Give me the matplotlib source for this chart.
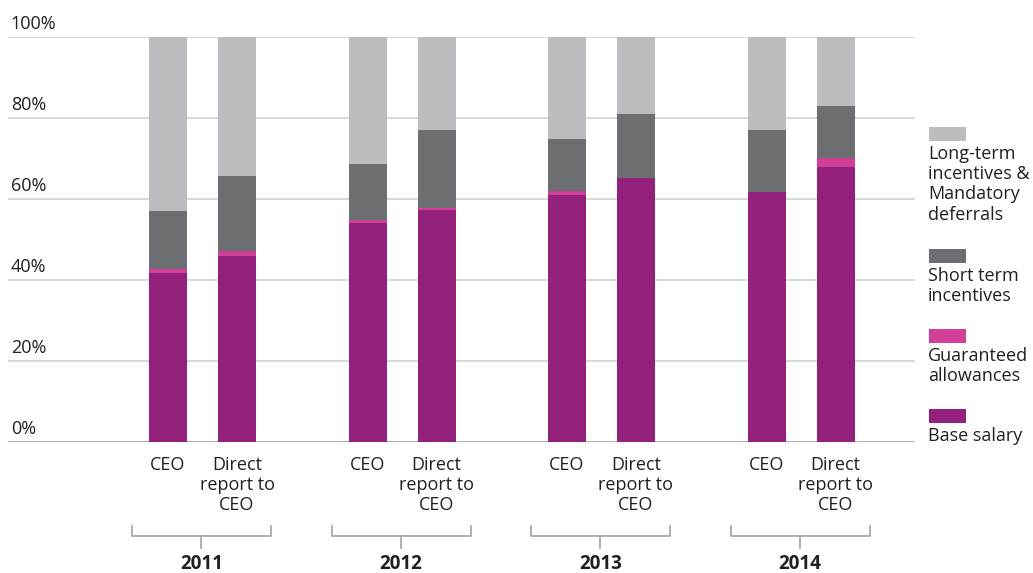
import matplotlib
import matplotlib.pyplot as plt
from matplotlib.patches import Rectangle

matplotlib.use('agg')
plt.rcParams['font.family'] = ['Open Sans', 'DejaVu Sans']

# data (share of total pay, %)
years = ['2011', '2012', '2013', '2014']
roles = ['CEO', 'Direct\nreport to\nCEO']
base_salary = [41.7, 45.9, 54.1, 57.3, 61.0, 65.2, 61.7, 67.9]
guaranteed = [1.0, 1.3, 0.8, 0.6, 1.0, 0.0, 0.0, 2.2]
short_term = [14.3, 18.5, 13.7, 19.1, 12.8, 15.8, 15.3, 12.9]
long_term = [43.0, 34.3, 31.4, 23.0, 25.2, 19.0, 23.0, 17.0]
yticks = [0, 20, 40, 60, 80, 100]

series = [
    ('Base salary', base_salary, '#93207a'),
    ('Guaranteed\nallowances', guaranteed, '#d13f97'),
    ('Short term\nincentives', short_term, '#6d6e71'),
    ('Long-term\nincentives &\nMandatory\ndeferrals', long_term, '#bcbdc0'),
]

W, H = 1033, 573
FS = 13
TXT = '#231f20'
fig = plt.figure(figsize=(W / 100, H / 100), dpi=100)


def fx(px):
    return px / W


def fy(py):
    return 1 - py / H


ax = fig.add_axes([fx(8), fy(442), fx(915) - fx(8), fy(37) - fy(442)])
ax.set_xlim(0.08, 9.15)
ax.set_ylim(0, 100)


def ay(py):
    # pixel row -> axes fraction
    return (fy(py) - fy(442)) / (fy(37) - fy(442))


group_step = 1.995
pair_offset = 0.69
width = 0.38
xs = []
for g in range(len(years)):
    for k in range(len(roles)):
        xs.append(1.68 + g * group_step + k * pair_offset)

for t in yticks:
    ax.axhline(t, color='#a7a9ac' if t == 0 else '#d4d5d6', lw=1.3, zorder=1)
    ax.text(0.003, t + 1.0, '{}%'.format(t), transform=ax.get_yaxis_transform(),
            ha='left', va='bottom', fontsize=FS, color=TXT)

bottom = [0.0] * len(xs)
for label, vals, color in series:
    ax.bar(xs, vals, width=width, bottom=bottom, color=color, zorder=2, linewidth=0)
    bottom = [b + v for b, v in zip(bottom, vals)]

ax.axis('off')

# category labels and year brackets
trans = ax.get_xaxis_transform()
for i, x in enumerate(xs):
    ax.text(x, ay(456), roles[i % 2], transform=trans, ha='center', va='top',
            fontsize=FS, color=TXT, linespacing=1.16, clip_on=False)

for g, year in enumerate(years):
    x0 = xs[2 * g] - 0.36
    x1 = xs[2 * g + 1] + 0.34
    xm = (x0 + x1) / 2
    ax.plot([x0, x0, x1, x1], [ay(526), ay(536), ay(536), ay(526)], transform=trans,
            color='#a7a9ac', lw=1.3, clip_on=False)
    ax.plot([xm, xm], [ay(536), ay(548)], transform=trans, color='#a7a9ac', lw=1.3,
            clip_on=False)
    ax.text(xm, ay(564), year, transform=trans, ha='center', va='center',
            fontsize=13.5, fontweight='bold', color=TXT, clip_on=False)

# legend on the right
legend_pos = [(409, 427), (329, 347), (249, 267), (127, 145)]
for (label, vals, color), (ptop, ttop) in zip(series, legend_pos):
    fig.add_artist(Rectangle((fx(929), fy(ptop + 14)), fx(37), fy(0) - fy(14),
                             transform=fig.transFigure, color=color, lw=0))
    fig.text(fx(928), fy(ttop), label, ha='left', va='top', fontsize=FS,
             color=TXT, linespacing=1.16)

plt.savefig('out.png', dpi=100)
plt.close()
